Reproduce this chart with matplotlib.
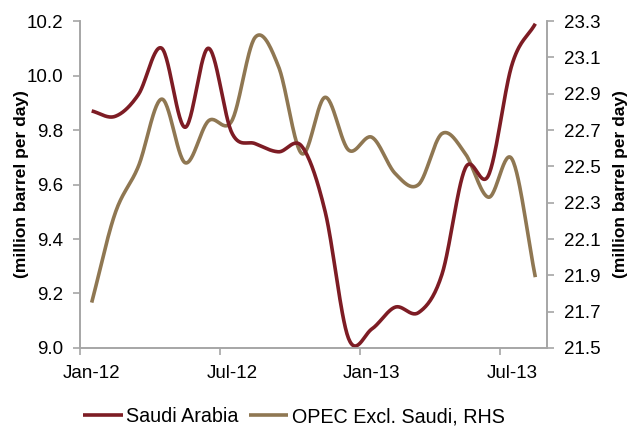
import numpy as np
import matplotlib
matplotlib.use("Agg")
import matplotlib.pyplot as plt

plt.rcParams['font.family'] = ['Liberation Sans', 'DejaVu Sans']

months = ["Jan-12", "Feb-12", "Mar-12", "Apr-12", "May-12", "Jun-12", "Jul-12",
          "Aug-12", "Sep-12", "Oct-12", "Nov-12", "Dec-12", "Jan-13", "Feb-13",
          "Mar-13", "Apr-13", "May-13", "Jun-13", "Jul-13", "Aug-13"]
saudi = [9.87, 9.85, 9.93, 10.10, 9.81, 10.10, 9.79, 9.75, 9.72, 9.74,
         9.50, 9.035, 9.07, 9.15, 9.13, 9.27, 9.66, 9.635, 10.04, 10.19]
opec = [21.75, 22.24, 22.50, 22.87, 22.52, 22.75, 22.75, 23.21, 23.05, 22.57,
        22.88, 22.59, 22.66, 22.46, 22.40, 22.68, 22.57, 22.33, 22.54, 21.89]
tick_labels = ["Jan-12", "Jul-12", "Jan-13", "Jul-13"]

red = "#7d1c24"
tan = "#8f7752"
grey = "#a6a6a6"


def smooth(y, n=30):
    # excel style smoothed line (catmull-rom through the points)
    y = np.asarray(y, dtype=float)
    x = np.arange(len(y), dtype=float)
    p = np.concatenate([[2 * y[0] - y[1]], y, [2 * y[-1] - y[-2]]])
    xs, ys = [], []
    t = np.linspace(0, 1, n, endpoint=False)
    for i in range(len(y) - 1):
        p0, p1, p2, p3 = p[i], p[i + 1], p[i + 2], p[i + 3]
        seg = 0.5 * ((2 * p1) + (-p0 + p2) * t + (2 * p0 - 5 * p1 + 4 * p2 - p3) * t ** 2
                     + (-p0 + 3 * p1 - 3 * p2 + p3) * t ** 3)
        xs.extend(x[i] + t)
        ys.extend(seg)
    xs.append(x[-1])
    ys.append(y[-1])
    return np.array(xs), np.array(ys)


fig = plt.figure(figsize=(6.31, 4.26), dpi=100)
ax = fig.add_axes([0.1268, 0.1831, 0.7401, 0.7676])
ax2 = ax.twinx()

sx, sy = smooth(saudi)
ox, oy = smooth(opec)
l2, = ax2.plot(ox, oy, color=tan, lw=2.6, solid_capstyle='butt', label="OPEC Excl. Saudi, RHS")
l1, = ax2.plot(sx, (sy - 9.0) * 1.5 + 21.5, color=red, lw=2.6, solid_capstyle='butt',
               label="Saudi Arabia")
ax.set_ylim(9.0, 10.2)
ax2.set_ylim(21.5, 23.3)
ax.set_xlim(-0.5, len(months) - 0.5)

ax.set_yticks(np.arange(9.0, 10.21, 0.2))
ax.set_yticklabels([f"{v:.1f}" for v in np.arange(9.0, 10.21, 0.2)])
ax2.set_yticks(np.arange(21.5, 23.31, 0.2))
ax2.set_yticklabels([f"{v:.1f}" for v in np.arange(21.5, 23.31, 0.2)])

ax.set_xticks([months.index(m) for m in tick_labels])
ax.set_xticklabels(tick_labels)
ax.set_xticks([months.index(m) - 0.5 for m in tick_labels], minor=True)

for a in (ax, ax2):
    a.spines['top'].set_visible(False)
    for s in ('left', 'right', 'bottom'):
        a.spines[s].set_color(grey)
        a.spines[s].set_linewidth(1.2)
    a.tick_params(axis='y', colors=grey, labelcolor='black', labelsize=13.5,
                  length=5, width=1.2, pad=7, direction='out')
ax.tick_params(axis='x', which='major', length=0, labelsize=13.5, pad=12)
ax.tick_params(axis='x', which='minor', length=5, width=1.2, color=grey, direction='out')

ax.set_ylabel("(million barrel per day)", fontsize=12.5, fontweight='bold', labelpad=-2)
ax2.set_ylabel("(million barrel per day)", fontsize=12.5, fontweight='bold', labelpad=9)

fig.legend(handles=[l1, l2], loc='center', bbox_to_anchor=(0.466, 0.022), ncol=2,
           frameon=False, fontsize=14.2, handlelength=2.0, handletextpad=0.2,
           columnspacing=0.5)

fig.savefig("out.png", dpi=100)
